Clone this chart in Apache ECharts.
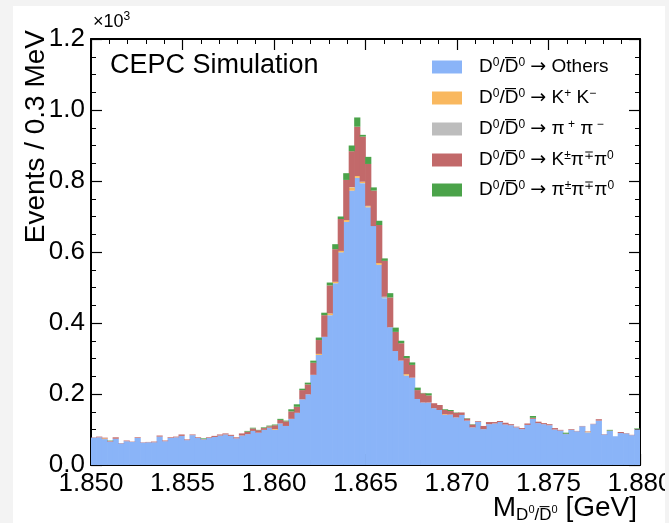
<!DOCTYPE html>
<html><head><meta charset="utf-8">
<script src="https://cdn.jsdelivr.net/npm/echarts@6/dist/echarts.min.js"></script>
<style>
html,body{margin:0;padding:0;background:#f3f3f3;width:669px;height:523px;overflow:hidden}
#c{position:absolute;left:13px;top:6px;width:652px;height:517px;background:#fff}
</style></head><body><div id="c"></div>
<script>
// 100 bins of 0.3 MeV from 1.850 to 1.880 GeV
const xMin = 1.850, xMax = 1.880, nBins = 100;
const binCenters = Array.from({length: nBins}, (_, i) => (xMin + (xMax - xMin) * (i + 0.5) / nBins).toFixed(5));

const others = [77,78,73,66,74,61,67,65,76,63, 64,64,80,67,76,78,82,70,84,76,
  72,76,79,83,86,82,75,83,87,96, 91,99,105,99,117,110,130,147,185,199,
  254,310,361,422,512,599,685,773,809,794, 726,673,564,470,388,321,294,252,246,186,
  176,176,160,155,141,142,134,141,125,106, 122,101,115,117,121,114,112,106,101,113,
  130,118,115,112,100,97,87,99,95,109, 92,115,125,86,96,81,90,89,84,100];
const kk = [0,0,2,0,0,0,0,0,0,0, 0,0,0,0,0,0,0,0,0,0, 0,0,0,0,0,0,0,0,0,0,
  0,0,0,2,0,0,0,0,0,0, 0,3,0,5,4,4,5,9,5,4, 3,0,5,0,0,0,0,4,0,0,
  0,0,0,0,2,0,0,0,0,0, 0,0,0,0,0,0,0,0,0,0, 0,0,0,0,0,0,0,0,0,0, 2,0,0,0,0,0,0,0,0,0];
const pipi = [0,0,0,0,0,0,0,0,0,0, 0,0,0,0,0,0,0,0,0,0, 0,0,0,0,0,0,0,0,0,0,
  0,0,0,0,0,0,0,0,0,0, 0,0,0,0,0,0,0,1,0,0, 1,0,0,4,0,0,0,0,0,0,
  0,0,0,0,0,0,0,0,0,0, 0,0,0,0,0,0,0,0,0,0, 0,0,0,0,0,0,0,0,0,0, 0,0,0,0,0,0,0,0,0,0];
const kpipi0 = [1,2,2,2,4,1,2,1,2,1, 1,2,3,2,2,2,4,2,2,2, 1,2,3,3,3,3,3,6,7,7,
  7,5,4,11,10,13,21,17,26,28, 34,39,61,79,92,90,113,101,139,127,
  118,100,107,101,84,54,49,45,36,25, 26,20,14,14,12,10,13,7,6,8,
  2,9,6,4,3,5,3,2,3,4, 3,4,3,3,4,2,1,2,1,1, 1,1,4,1,1,0,3,1,1,1];
const pipipi0 = [0,0,0,1,0,0,0,0,0,0, 0,0,0,0,0,0,0,0,0,0, 2,0,0,0,0,0,0,0,2,2,
  1,2,2,2,3,2,6,7,4,5, 6,7,7,8,14,7,19,16,26,5, 20,9,12,7,12,12,7,6,7,7,
  1,6,0,0,2,3,1,0,1,1, 0,0,0,0,0,0,0,0,0,0, 5,0,0,0,0,0,3,0,0,0, 0,0,0,0,2,0,0,0,0,2];

const seriesNames = ['Others', 'KK', 'PiPi', 'KPiPi0', 'PiPiPi0'];
const seriesData = [others, kk, pipi, kpipi0, pipipi0];
const colors = ['#8ab4f8', '#f9b85f', '#bdbdbd', '#c2696a', '#4ba34a'];
const Dbar = 'D\u0305';
const pre = '{g| }{b|D}{s|0}{b|/' + Dbar + '}{s|0}{b| }{a|\u2192}{b| ';
const legendLabels = {
  Others: pre + 'Others}',
  KK: pre + 'K}{s|+}{b| K}{s|\u2212}',
  PiPi: pre + '\u03c0}{s| +}{b| \u03c0}{s| \u2212}',
  KPiPi0: pre + 'K}{s|\u00b1}{b|\u03c0}{s|\u2213}{b|\u03c0}{s|0}',
  PiPiPi0: pre + '\u03c0}{s|\u00b1}{b|\u03c0}{s|\u2213}{b|\u03c0}{s|0}'
};
const legendTops = [51, 82, 113, 144, 174];

// stacked bases built from the component arrays
const stackRows = seriesData.map(() => []);
for (let i = 0; i < nBins; i++) {
  let base = 0;
  seriesData.forEach((arr, j) => {
    stackRows[j].push([i, base, base + arr[i]]);
    base += arr[i];
  });
}

const FONT = '"Liberation Sans", Arial, Helvetica, sans-serif';
const chart = echarts.init(document.getElementById('c'), null, {renderer: 'canvas'});

const axisLine = {show: true, onZero: false, lineStyle: {color: '#000', width: 2}};
const tick = (len) => ({show: true, inside: true, length: len, lineStyle: {color: '#000', width: 1.2}});
const minor = (n) => ({show: true, splitNumber: n, length: 5, lineStyle: {color: '#000', width: 1}});

function renderBin(params, api) {
  const lo = api.value(1), hi = api.value(2);
  if (hi <= lo) return null;
  const p0 = api.coord([api.value(0), lo]);
  const p1 = api.coord([api.value(0), hi]);
  const w = api.size([1, 0])[0];
  return {
    type: 'rect',
    shape: {x: p0[0] - w / 2 - 0.35, y: p1[1], width: w + 0.7, height: p0[1] - p1[1]},
    style: {fill: api.visual('color')}
  };
}

chart.setOption({
  animation: false,
  backgroundColor: '#fff',
  grid: {left: 78, top: 33, width: 549, height: 426, outerBoundsMode: 'none', containLabel: false},
  legend: seriesNames.map((n, i) => ({
    data: [n], left: 419, top: legendTops[i], padding: 0,
    icon: 'rect', itemWidth: 30, itemHeight: 13, selectedMode: false,
    formatter: (name) => legendLabels[name],
    textStyle: {
      fontFamily: FONT, color: '#000',
      rich: {
        g: {width: 12, fontSize: 19, fontFamily: FONT},
        b: {fontSize: 19, fontFamily: FONT, color: '#000', lineHeight: 24},
        a: {fontSize: 19, fontFamily: '"DejaVu Sans", sans-serif', color: '#000', lineHeight: 24},
        s: {fontSize: 12, fontFamily: FONT, color: '#000', padding: [0, 0, 8, 0]}
      }
    }
  })),
  xAxis: [
    {type: 'category', data: binCenters, show: false, boundaryGap: true},
    {type: 'value', position: 'bottom', min: xMin, max: xMax, interval: 0.005,
     axisLine, axisTick: tick(11), minorTick: minor(5), splitLine: {show: false},
     axisLabel: {show: true, margin: 6, color: '#000', fontSize: 26, fontFamily: FONT,
       formatter: (v) => v.toFixed(3), showMinLabel: true, showMaxLabel: true, hideOverlap: false}},
    {type: 'value', position: 'top', min: xMin, max: xMax, interval: 0.005,
     axisLine, axisTick: tick(11), minorTick: minor(5), splitLine: {show: false},
     axisLabel: {show: false}}
  ],
  yAxis: [
    {type: 'value', position: 'left', min: 0, max: 1200, interval: 200,
     axisLine, axisTick: tick(11), minorTick: minor(4), splitLine: {show: false},
     axisLabel: {show: true, margin: 6, color: '#000', fontSize: 26, fontFamily: FONT,
       formatter: (v) => (v / 1000).toFixed(1), showMinLabel: true, showMaxLabel: true}},
    {type: 'value', position: 'right', min: 0, max: 1200, interval: 200,
     axisLine, axisTick: tick(11), minorTick: minor(4), splitLine: {show: false},
     axisLabel: {show: false}}
  ],
  series: seriesNames.map((n, i) => ({
    name: n, type: 'custom', xAxisIndex: 0, yAxisIndex: 0, z: 1,
    data: stackRows[i], renderItem: renderBin, encode: {x: 0, y: [1, 2]},
    itemStyle: {color: colors[i]}, silent: true, clip: true
  })),
  graphic: [
    {type: 'text', x: 23, y: 24, rotation: Math.PI / 2,
     style: {text: 'Events / 0.3 MeV', fill: '#000', font: '28px ' + FONT, align: 'right', verticalAlign: 'middle'}},
    {type: 'text', x: 97, y: 60,
     style: {text: 'CEPC Simulation', fill: '#000', font: '27px ' + FONT, align: 'left', verticalAlign: 'middle'}},
    {type: 'text', x: 80, y: 16,
     style: {text: '{a|\u00d710}{s|3}', align: 'left', verticalAlign: 'middle',
       rich: {a: {fontSize: 18, fontFamily: FONT, fill: '#000'},
              s: {fontSize: 12, fontFamily: FONT, fill: '#000', padding: [0, 0, 10, 0]}}}},
    {type: 'text', x: 624, y: 502,
     style: {text: '{m|M}{sub|D}{ss|0}{sub|/' + Dbar + '}{ss|0}{m| [GeV]}', align: 'right', verticalAlign: 'middle',
       rich: {
         m: {fontSize: 28, fontFamily: FONT, fill: '#000', lineHeight: 30},
         sub: {fontSize: 17, fontFamily: FONT, fill: '#000', padding: [14, 0, 0, 0]},
         ss: {fontSize: 11, fontFamily: FONT, fill: '#000', padding: [4, 0, 0, 0]}
       }}}
  ]
});
</script></body></html>
